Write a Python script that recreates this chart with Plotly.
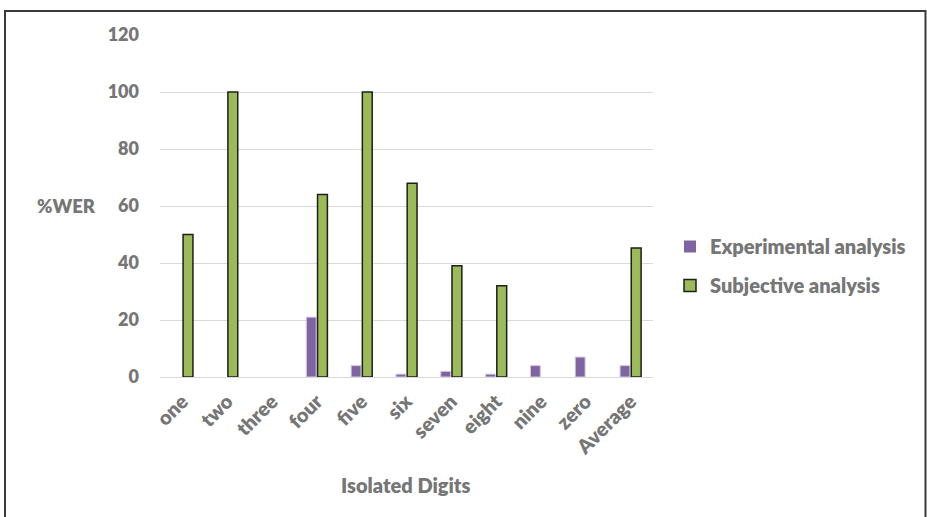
import plotly.graph_objects as go

categories = ["one", "two", "three", "four", "five", "six", "seven", "eight", "nine", "zero", "Average"]
experimental = [0, 0, 0, 21, 4, 1, 2, 1, 4, 7, 4]
subjective = [50, 100, 0, 64, 100, 68, 39, 32, 0, 0, 45.3]
y_ticks = [0, 20, 40, 60, 80, 100, 120]

FONT = "Lato"
GRAY = "#767676"
WEIGHT = 800

fig = go.Figure()
fig.add_trace(go.Bar(
    x=categories, y=experimental, name="Experimental analysis",
    marker=dict(color="#8064a2",
                line=dict(color="#d4c8e6", width=[1 if v else 0 for v in experimental])),
    legendgroup="a",
))
fig.add_trace(go.Bar(
    x=categories, y=subjective, name="Subjective analysis",
    marker=dict(color="#9bbb59",
                line=dict(color="#1e1e1e", width=[1.5 if v else 0 for v in subjective])),
    legendgroup="b",
))

L, R, T, B = 160, 274, 35, 140
W, H = 927, 517
pw, ph = W - L - R, H - T - B

def px(x):
    return (x - L) / pw

def py(y):
    return (H - B - y) / ph

fig.update_layout(
    width=W, height=H,
    margin=dict(l=L, r=R, t=T, b=B),
    paper_bgcolor="white", plot_bgcolor="white",
    barmode="group", bargap=0.5, bargroupgap=0.12,
    font=dict(family=FONT, color=GRAY, size=18),
    showlegend=True,
    legend=dict(
        x=px(670), y=py(266), xanchor="left", yanchor="middle",
        font=dict(family=FONT, size=20, color=GRAY, weight=WEIGHT),
        traceorder="grouped", tracegroupgap=10,
        bgcolor="rgba(0,0,0,0)",
    ),
    xaxis=dict(
        tickangle=-45, showgrid=False, showline=False, ticks="",
        ticklabelstandoff=8,
        tickfont=dict(family=FONT, size=20, color=GRAY, weight=WEIGHT),
    ),
    yaxis=dict(
        range=[0, 120], tickvals=y_ticks, showgrid=True, gridcolor="#d9d9d9",
        gridwidth=1, zeroline=True, zerolinecolor="#d9d9d9", zerolinewidth=1,
        showline=False, ticks="", ticklabelstandoff=20,
        tickfont=dict(family=FONT, size=18, color=GRAY, weight=WEIGHT),
    ),
    annotations=[
        dict(text="%WER", x=px(66), y=py(206), xref="paper", yref="paper",
             showarrow=False, xanchor="center", yanchor="middle",
             font=dict(family=FONT, size=18.5, color=GRAY, weight=WEIGHT)),
        dict(text="Isolated Digits", x=px(406), y=py(485), xref="paper", yref="paper",
             showarrow=False, xanchor="center", yanchor="middle",
             font=dict(family=FONT, size=20, color=GRAY, weight=WEIGHT)),
    ],
    shapes=[
        dict(type="rect", xref="paper", yref="paper",
             x0=px(5), x1=px(925.5), y0=py(530), y1=py(11),
             line=dict(color="#3a3a3a", width=2), fillcolor="rgba(0,0,0,0)", layer="below"),
    ],
)

fig.write_html("out.html")
